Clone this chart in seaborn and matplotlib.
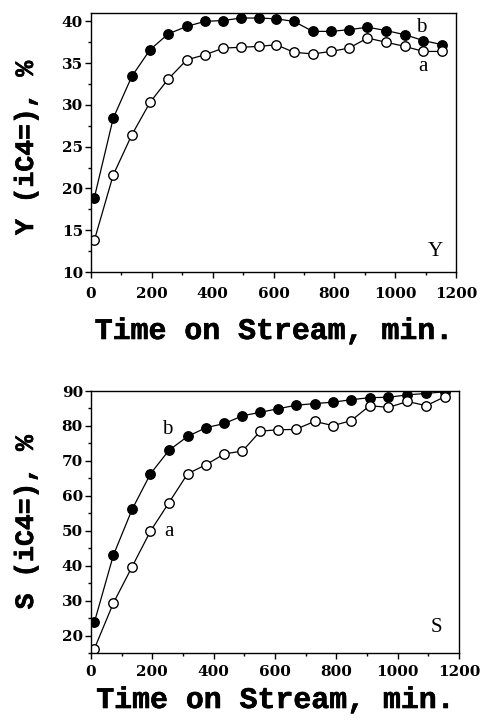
import numpy as np
import pandas as pd
import matplotlib
matplotlib.use("Agg")
import matplotlib.pyplot as plt
import matplotlib.patheffects as pe
import seaborn as sns
from matplotlib.ticker import MultipleLocator

# ---- data ----
time_min = [11, 73, 134, 194, 254, 315, 375, 435, 494, 552,
            609, 667, 729, 789, 848, 909, 970, 1032, 1093, 1155]

yield_b = [18.9, 28.4, 33.4, 36.6, 38.5, 39.4, 40.0, 40.1, 40.4, 40.4,
           40.3, 40.0, 38.8, 38.8, 39.0, 39.3, 38.9, 38.4, 37.7, 37.2]
yield_a = [13.8, 21.6, 26.4, 30.3, 33.1, 35.4, 36.0, 36.8, 36.9, 37.0,
           37.2, 36.3, 36.1, 36.4, 36.8, 38.0, 37.5, 37.0, 36.4, 36.4]

sel_b = [23.8, 43.0, 56.1, 66.3, 73.0, 77.0, 79.5, 80.7, 82.9, 83.9,
         84.9, 85.9, 86.4, 86.8, 87.5, 88.1, 88.2, 88.9, 89.3, 89.8]
sel_a = [16.2, 29.3, 39.7, 49.9, 58.0, 66.3, 68.9, 72.0, 72.8, 78.5,
         78.9, 79.0, 81.3, 80.1, 81.5, 85.8, 85.3, 87.0, 85.8, 88.4]

x_ticks = [0, 200, 400, 600, 800, 1000, 1200]
y_ticks_Y = [10, 15, 20, 25, 30, 35, 40]
y_ticks_S = [20, 30, 40, 50, 60, 70, 80, 90]

sns.set_style("ticks")
plt.rcParams['font.family'] = ['DejaVu Serif']
plt.rcParams['text.color'] = 'black'
plt.rcParams['axes.labelcolor'] = 'black'
plt.rcParams['xtick.color'] = 'black'
plt.rcParams['ytick.color'] = 'black'

fig = plt.figure(figsize=(4.81, 7.22), dpi=100)
ax1 = fig.add_axes([91/481, 1-272/722, 365/481, 259/722])
ax2 = fig.add_axes([91/481, 1-653/722, 368/481, 262/722])

df_y = pd.DataFrame({"t": time_min, "a": yield_a, "b": yield_b})
df_s = pd.DataFrame({"t": time_min, "a": sel_a, "b": sel_b})

line_kw = dict(color="black", linewidth=0.9, markersize=6.8, markeredgewidth=1.0,
               markeredgecolor="black", marker="o")

thick = [pe.withStroke(linewidth=0.45, foreground="black")]
xlabel_font = dict(family="Liberation Mono", fontsize=21.5, fontweight="bold", color="black")
ylabel_font = dict(family="Liberation Mono", fontsize=19, fontweight="bold", color="black")

for ax, df in [(ax1, df_y), (ax2, df_s)]:
    sns.lineplot(data=df, x="t", y="b", ax=ax, markerfacecolor="black", **line_kw)
    sns.lineplot(data=df, x="t", y="a", ax=ax, markerfacecolor="white", **line_kw)
    ax.set_xlim(0, 1200)
    ax.set_xticks(x_ticks)
    ax.xaxis.set_minor_locator(MultipleLocator(100))
    for s in ax.spines.values():
        s.set_linewidth(1.0)
        s.set_color("black")
    ax.tick_params(axis="both", which="major", direction="out", length=4.3, width=1.0,
                   labelsize=11, colors="black")
    ax.tick_params(axis="both", which="minor", direction="out", length=2.2, width=1.0)
    ax.tick_params(axis="y", which="major", pad=1.5)
    xl = ax.set_xlabel("Time on Stream, min.", **xlabel_font)
    xl.set_path_effects(thick)

ax1.tick_params(axis="x", which="major", pad=6.5)
ax2.tick_params(axis="x", which="major", pad=4.3)

ax1.set_ylim(10, 41)
ax1.set_yticks(y_ticks_Y)
ax1.yaxis.set_minor_locator(MultipleLocator(2.5))
yl1 = ax1.set_ylabel("Y (iC4=), %", **ylabel_font)
yl1.set_path_effects(thick)

ax2.set_ylim(15, 90)
ax2.set_yticks(y_ticks_S)
ax2.yaxis.set_minor_locator(MultipleLocator(5))
yl2 = ax2.set_ylabel("S (iC4=), %", **ylabel_font)
yl2.set_path_effects(thick)

ax1.xaxis.set_label_coords(0.5, -(317 - 272) / 259)
ax2.xaxis.set_label_coords(0.5, -(686 - 653) / 262)
ax1.yaxis.set_label_coords(-(91 - 38) / 365, 0.48)
ax2.yaxis.set_label_coords(-(91 - 38) / 368, 0.5)

for lab in ax1.get_xticklabels() + ax1.get_yticklabels() + ax2.get_xticklabels() + ax2.get_yticklabels():
    lab.set_fontweight("bold")

tkw = dict(fontsize=15, family="Liberation Serif", ha="center", va="center", color="black")
ax1.text(1087, 39.3, "b", **tkw)
ax1.text(1091, 34.6, "a", **tkw)
ax1.text(1131, 12.4, "Y", **tkw)
ax2.text(248, 79.1, "b", **tkw)
ax2.text(255, 49.8, "a", **tkw)
ax2.text(1125, 22.4, "S", **tkw)

fig.savefig("out.png", dpi=100)
